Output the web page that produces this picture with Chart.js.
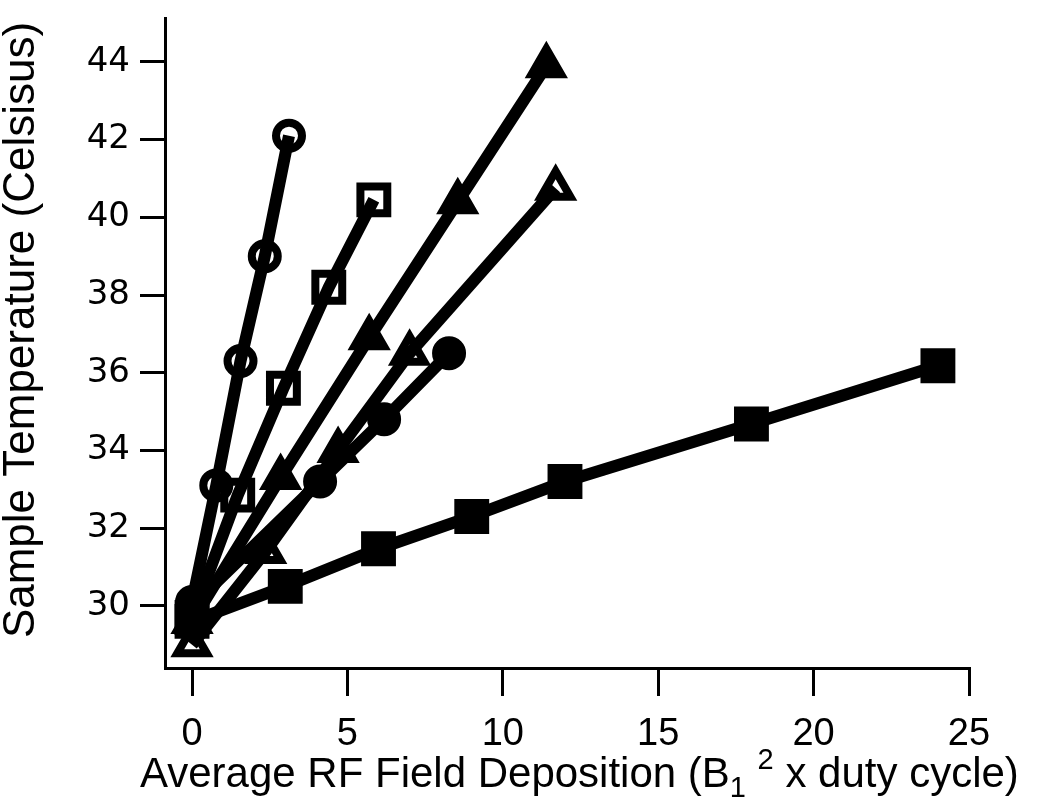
<!DOCTYPE html>
<html>
<head>
<meta charset="utf-8">
<script src="https://cdn.jsdelivr.net/npm/chart.js@4.4.0/dist/chart.umd.min.js"></script>
<style>
html, body { margin: 0; padding: 0; background: #fff; }
#wrap { width: 1050px; height: 806px; }
</style>
</head>
<body>
<div id="wrap"><canvas id="rfChart" width="1050" height="806"></canvas></div>
<script>
// tick values
var xTicks = [0, 5, 10, 15, 20, 25];
var yTicks = [30, 32, 34, 36, 38, 40, 42, 44];

// series (x = B1^2 x duty cycle, y = temperature)
var openCircleX = [0, 0.78, 1.56, 2.34, 3.12];
var openCircleY = [30.1, 33.1, 36.3, 39.0, 42.1];

var openSquareX = [0, 1.47, 2.94, 4.4, 5.85];
var openSquareY = [29.7, 32.85, 35.6, 38.2, 40.45];

var filledTriX = [0, 2.85, 5.7, 8.55, 11.4];
var filledTriY = [29.6, 33.3, 36.9, 40.4, 43.9];

var openTriX = [0, 2.37, 4.7, 7.0, 11.7];
var openTriY = [29.0, 31.4, 34.0, 36.5, 40.75];

var filledCircleX = [0, 4.12, 6.18, 8.27];
var filledCircleY = [30.0, 33.2, 34.8, 36.5];

var filledSquareX = [0, 3, 6, 9, 12, 18, 24];
var filledSquareY = [29.6, 30.5, 31.47, 32.3, 33.2, 34.68, 36.18];

function toPoints(xs, ys) {
    return xs.map(function (x, i) { return { x: x, y: ys[i] }; });
}

function series(label, xs, ys, style, filled, radius) {
    return {
        label: label,
        data: toPoints(xs, ys),
        borderColor: '#000',
        borderWidth: 12,
        pointStyle: style,
        pointRadius: radius,
        pointBorderWidth: 8,
        pointBorderColor: '#000',
        pointBackgroundColor: filled ? '#000' : 'rgba(0,0,0,0)',
        showLine: true,
        tension: 0
    };
}

// axis titles drawn by hand so the subscript / superscript work
var axisTitles = {
    id: 'axisTitles',
    afterDraw: function (chart) {
        var ctx = chart.ctx;
        ctx.save();
        ctx.fillStyle = '#000';

        // y title
        ctx.translate(22, 330);
        ctx.rotate(-Math.PI / 2);
        ctx.font = '44px "Liberation Sans", Arial, sans-serif';
        ctx.textAlign = 'center';
        ctx.textBaseline = 'middle';
        ctx.fillText('Sample Temperature (Celsisus)', 0, 0);
        ctx.setTransform(1, 0, 0, 1, 0, 0);

        // x title
        var big = '42px "Liberation Sans", Arial, sans-serif';
        var small = '29px "Liberation Sans", Arial, sans-serif';
        var parts = [
            { t: 'Average RF Field Deposition (B', f: big, dy: 0 },
            { t: '1', f: small, dy: 10 },
            { t: ' ', f: big, dy: 0 },
            { t: '2', f: small, dy: -18 },
            { t: ' x duty cycle)', f: big, dy: 0 }
        ];
        ctx.textAlign = 'left';
        ctx.textBaseline = 'alphabetic';
        var x = 140, base = 787;
        parts.forEach(function (p) {
            ctx.font = p.f;
            ctx.fillText(p.t, x, base + p.dy);
            x += ctx.measureText(p.t).width;
        });
        ctx.restore();
    }
};

var ctx = document.getElementById('rfChart').getContext('2d');
var rfChart = new Chart(ctx, {
    type: 'scatter',
    data: {
        datasets: [
            series('open circle', openCircleX, openCircleY, 'circle', false, 13),
            series('open square', openSquareX, openSquareY, 'rect', false, 19),
            series('filled triangle', filledTriX, filledTriY, 'triangle', true, 17),
            series('open triangle', openTriX, openTriY, 'triangle', false, 17),
            series('filled circle', filledCircleX, filledCircleY, 'circle', true, 13),
            series('filled square', filledSquareX, filledSquareY, 'rect', true, 19)
        ]
    },
    options: {
        responsive: false,
        animation: false,
        events: [],
        layout: { autoPadding: false, padding: { top: 18, right: 81, left: 0, bottom: 0 } },
        plugins: {
            legend: { display: false },
            tooltip: { enabled: false },
            title: { display: false }
        },
        scales: {
            x: {
                type: 'linear',
                min: -0.87,
                max: 25,
                afterBuildTicks: function (s) { s.ticks = xTicks.map(function (v) { return { value: v }; }); },
                afterFit: function (s) { s.height = 138; s.paddingLeft = 0; s.paddingRight = 0; },
                grid: { drawOnChartArea: false, drawTicks: true, tickLength: 28, lineWidth: 3, color: '#000' },
                border: { display: true, color: '#000', width: 3 },
                ticks: { color: '#000', padding: 16, maxRotation: 0, font: { family: 'Liberation Sans', size: 38 } }
            },
            y: {
                type: 'linear',
                min: 28.4,
                max: 45.13,
                afterBuildTicks: function (s) { s.ticks = yTicks.map(function (v) { return { value: v }; }); },
                afterFit: function (s) { s.width = 165; s.paddingTop = 0; s.paddingBottom = 0; },
                grid: { drawOnChartArea: false, drawTicks: true, tickLength: 25, lineWidth: 3, color: '#000' },
                border: { display: true, color: '#000', width: 3 },
                ticks: { color: '#000', padding: 10, font: { family: 'DejaVu Sans', size: 34 } }
            }
        }
    },
    plugins: [axisTitles]
});
</script>
</body>
</html>
